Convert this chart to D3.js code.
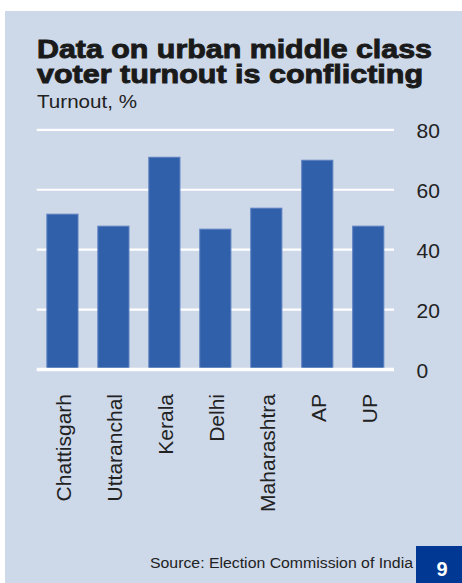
<!DOCTYPE html>
<html><head><meta charset="utf-8">
<script src="https://cdn.jsdelivr.net/npm/d3@7"></script>
<style>
html,body{margin:0;padding:0;background:#fff;}
svg{display:block;}
text{font-family:"Liberation Sans",Arial,Helvetica,sans-serif;}
</style></head>
<body>
<script>
const categories = ["Chattisgarh","Uttaranchal","Kerala","Delhi","Maharashtra","AP","UP"];
const turnout = [52, 48, 71, 47, 54, 70, 48];
const tickValues = [0, 20, 40, 60, 80];
const titleLines = ["Data on urban middle class","voter turnout is conflicting"];
const subtitle = "Turnout, %";
const source = "Source: Election Commission of India";
const pageNumber = "9";

const W = 462, H = 583;
const svg = d3.select("body").append("svg").attr("width", W).attr("height", H);

// panel
svg.append("rect").attr("x",5).attr("y",11).attr("width",W-5).attr("height",H-11).attr("fill","#cdd8e9");

// titles
const titleLens = [395, 386];
svg.selectAll("text.title").data(titleLines).enter().append("text")
  .attr("class","title")
  .attr("x",37).attr("y",(d,i)=>58.3+i*25)
  .attr("font-size",25.5).attr("font-weight","bold")
  .attr("fill","#1a1a1a").attr("stroke","#1a1a1a").attr("stroke-width",0.9)
  .attr("textLength",(d,i)=>titleLens[i]).attr("lengthAdjust","spacingAndGlyphs")
  .text(d=>d);

svg.append("text").attr("x",37).attr("y",107.7).attr("font-size",19).attr("fill","#222")
  .attr("textLength",100).attr("lengthAdjust","spacingAndGlyphs").text(subtitle);

// scales
const x = d3.scaleBand().domain(categories).range([36.7,394]).paddingInner(0.37).paddingOuter(0.19);
const y = d3.scaleLinear().domain([0,80]).range([369.5,129.8]);

// gridlines (non-zero)
svg.append("g").selectAll("line").data(tickValues.filter(v=>v>0)).enter().append("line")
  .attr("x1",36.7).attr("x2",394).attr("y1",d=>y(d)).attr("y2",d=>y(d))
  .attr("stroke","#fff").attr("stroke-width",2.2);

// bars
svg.append("g").selectAll("rect").data(categories).enter().append("rect")
  .attr("x",d=>x(d)+0.5).attr("width",x.bandwidth()-1)
  .attr("y",(d,i)=>y(turnout[i])+0.5).attr("height",(d,i)=>y(0)-y(turnout[i]))
  .attr("fill","#3160ab").attr("stroke","#5a7fbf").attr("stroke-width",1);

// zero line
svg.append("line").attr("x1",36.7).attr("x2",394).attr("y1",y(0)).attr("y2",y(0))
  .attr("stroke","#fff").attr("stroke-width",3.6);

// y axis labels
const yAxis = svg.append("g").attr("transform","translate(416.5,0)")
  .call(d3.axisRight(y).tickValues(tickValues).tickSize(0).tickPadding(0).tickFormat(d3.format("d")));
yAxis.select(".domain").remove();
yAxis.selectAll("text").attr("font-size",21).attr("fill","#222").attr("dy","0.38em")
  .style("font-family",'"Liberation Sans",Arial,sans-serif');

// x axis labels
const xAxis = svg.append("g").attr("transform","translate(0,394)")
  .call(d3.axisBottom(x).tickSize(0).tickPadding(0));
xAxis.select(".domain").remove();
xAxis.selectAll("text")
  .attr("font-size",21).attr("fill","#222")
  .style("font-family",'"Liberation Sans",Arial,sans-serif')
  .attr("text-anchor","end").attr("x",0).attr("y",0).attr("dy",null)
  .attr("transform","translate(8.4,0) rotate(-90)");

// source
svg.append("text").attr("x",150).attr("y",568.3).attr("font-size",14).attr("fill","#222")
  .attr("textLength",263).attr("lengthAdjust","spacingAndGlyphs").text(source);

// page number box
svg.append("rect").attr("x",416).attr("y",546).attr("width",46).attr("height",37).attr("fill","#003893");
svg.append("text").attr("x",442).attr("y",576).attr("text-anchor","middle")
  .attr("font-size",20).attr("font-weight","bold").attr("fill","#fff").text(pageNumber);
</script>
</body></html>
